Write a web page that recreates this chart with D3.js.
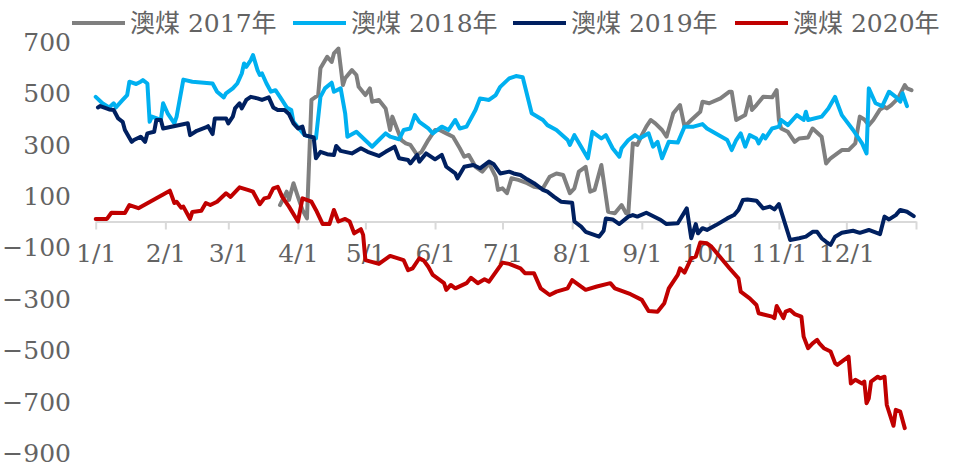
<!DOCTYPE html>
<html><head><meta charset="utf-8">
<script src="https://cdn.jsdelivr.net/npm/d3@7/dist/d3.min.js"></script>
<style>
html,body{margin:0;padding:0;background:#fff;}
svg{display:block;}
</style></head>
<body>
<svg id="chart" width="953" height="465"></svg>
<script>
// ---- data ----
const seriesNames = ["澳煤 2017年", "澳煤 2018年", "澳煤 2019年", "澳煤 2020年"];
const yTicks = [700, 500, 300, 100, -100, -300, -500, -700, -900];
const monthLabels = ["1/1","2/1","3/1","4/1","5/1","6/1","7/1","8/1","9/1","10/1","11/1","12/1"];

const aus2017 = [
["03-24",64],["03-27",116],["03-28",84],["03-30",149],["04-01",96],["04-03",45],["04-05",12],["04-07",473],
["04-10",492],["04-11",596],["04-14",641],["04-16",621],["04-17",654],["04-19",673],["04-21",531],["04-22",557],
["04-25",589],["04-27",570],["04-28",524],["05-01",492],["05-03",518],["05-04",466],["05-07",473],["05-10",440],
["05-12",356],["05-13",408],["05-17",317],["05-19",304],["05-21",298],["05-24",259],["05-26",271],["05-29",317],
["06-01",356],["06-03",356],["06-06",343],["06-09",330],["06-12",285],["06-14",252],["06-16",259],["06-19",213],
["06-22",194],["06-25",226],["06-28",174],["06-29",123],["07-01",129],["07-03",110],["07-05",168],["07-08",162],
["07-12",149],["07-15",135],["07-19",129],["07-22",174],["07-25",187],["07-28",181],["07-31",110],["08-02",129],
["08-04",194],["08-07",213],["08-09",116],["08-11",123],["08-14",220],["08-17",38],["08-20",32],["08-23",64],
["08-25",32],["08-26",32],["08-28",304],["08-30",298],["09-01",336],["09-03",369],["09-05",395],["09-07",382],
["09-10",356],["09-12",330],["09-15",421],["09-18",453],["09-20",369],["09-23",395],["09-27",427],["09-28",466],
["10-01",460],["10-06",479],["10-10",505],["10-11",505],["10-13",395],["10-17",414],["10-19",485],["10-20",434],
["10-22",453],["10-25",485],["10-29",483],["10-31",511],["11-01",395],["11-02",362],["11-05",349],["11-08",310],
["11-10",323],["11-14",327],["11-16",362],["11-20",330],["11-22",226],["11-24",246],["11-27",265],["11-29",278],
["12-02",278],["12-05",304],["12-07",408],["12-09",397],["12-11",375],["12-13",395],["12-16",436],["12-18",446],
["12-19",440],["12-21",453],["12-24",479],["12-27",531],["12-28",518],["12-30",511]
];

const aus2018 = [
["01-01",485],["01-04",460],["01-07",444],["01-09",460],["01-10",444],["01-13",473],["01-15",492],["01-16",544],
["01-19",535],["01-21",544],["01-22",550],["01-24",537],["01-25",388],["01-26",408],["01-30",395],["01-31",460],
["02-02",421],["02-05",382],["02-06",408],["02-09",552],["02-13",544],["02-22",537],["02-24",505],["02-27",483],
["02-28",499],["03-03",518],["03-05",537],["03-07",576],["03-08",615],["03-09",602],["03-11",628],["03-12",648],
["03-14",589],["03-15",570],["03-16",576],["03-18",537],["03-20",505],["03-22",511],["03-24",485],["03-27",444],
["03-29",434],["03-30",388],["04-02",356],["04-04",336],["04-09",323],["04-11",485],["04-13",518],["04-16",540],
["04-17",505],["04-20",518],["04-22",421],["04-23",330],["04-27",349],["05-04",291],["05-07",317],["05-10",343],
["05-12",330],["05-16",320],["05-18",356],["05-21",362],["05-23",414],["05-25",388],["05-29",362],["05-31",343],
["06-04",369],["06-07",356],["06-10",395],["06-12",362],["06-15",369],["06-19",434],["06-21",479],["06-25",473],
["06-28",492],["06-30",524],["07-04",557],["07-07",566],["07-10",561],["07-14",421],["07-19",395],["07-21",375],
["07-25",356],["07-30",317],["07-31",298],["08-02",336],["08-05",291],["08-08",246],["08-10",349],["08-14",323],
["08-16",336],["08-19",285],["08-22",252],["08-23",285],["08-26",317],["08-29",336],["08-31",323],["09-04",343],
["09-06",291],["09-08",310],["09-10",246],["09-13",310],["09-17",307],["09-20",369],["09-24",369],["09-28",379],
["09-30",362],["10-09",317],["10-11",278],["10-13",317],["10-15",343],["10-17",291],["10-19",336],["10-22",323],
["10-23",304],["10-25",336],["10-26",323],["10-29",362],["11-01",369],["11-02",395],["11-05",375],["11-09",414],
["11-12",395],["11-13",427],["11-14",395],["11-20",408],["11-23",440],["11-26",485],["11-27",460],["11-29",414],
["12-04",356],["12-08",304],["12-10",265],["12-11",518],["12-14",460],["12-17",449],["12-20",505],["12-23",485],
["12-25",466],["12-26",499],["12-28",449]
];

const aus2019 = [
["01-02",444],["01-03",449],["01-07",436],["01-09",434],["01-11",401],["01-13",388],["01-14",356],["01-17",310],
["01-18",317],["01-21",330],["01-23",310],["01-24",343],["01-27",349],["01-28",395],["01-30",395],["01-31",362],
["02-11",382],["02-12",336],["02-15",353],["02-19",366],["02-20",371],["02-22",340],["02-23",401],["02-28",401],
["03-01",382],["03-03",408],["03-04",440],["03-06",460],["03-07",440],["03-09",473],["03-11",485],["03-14",479],
["03-16",473],["03-19",483],["03-21",444],["03-23",434],["03-26",434],["03-28",418],["03-30",382],["04-01",362],
["04-03",369],["04-04",336],["04-08",327],["04-09",246],["04-11",271],["04-14",262],["04-17",259],["04-18",294],
["04-20",275],["04-22",271],["04-25",265],["04-29",285],["05-02",271],["05-07",255],["05-10",271],["05-14",291],
["05-16",246],["05-20",239],["05-21",226],["05-24",259],["05-25",233],["05-28",265],["06-01",242],["06-04",259],
["06-06",213],["06-10",187],["06-11",168],["06-14",213],["06-18",220],["06-21",207],["06-25",233],["06-27",224],
["06-30",187],["07-04",194],["07-06",187],["07-09",181],["07-12",164],["07-15",149],["07-19",123],["07-21",116],
["07-24",96],["07-27",77],["08-01",73],["08-02",0],["08-05",-20],["08-07",-40],["08-13",-59],["08-15",-36],
["08-16",12],["08-19",8],["08-22",-10],["08-26",19],["08-28",25],["08-30",19],["09-03",34],["09-09",8],
["09-12",-10],["09-17",-7],["09-21",51],["09-23",-65],["09-25",-10],["09-26",-46],["09-28",-26],["09-30",-33],
["10-04",-14],["10-09",12],["10-12",25],["10-14",45],["10-16",84],["10-18",86],["10-22",81],["10-25",51],
["10-28",58],["10-30",47],["11-01",68],["11-06",-72],["11-10",-65],["11-13",-59],["11-16",-40],["11-18",-40],
["11-20",-65],["11-22",-79],["11-24",-91],["11-26",-59],["11-29",-44],["12-04",-36],["12-07",-44],["12-11",-33],
["12-16",-49],["12-18",19],["12-20",8],["12-23",25],["12-25",45],["12-28",38],["12-31",21]
];

const aus2020 = [
["01-01",10],["01-06",10],["01-08",34],["01-14",33],["01-16",64],["01-20",52],["02-03",120],["02-05",72],
["02-06",77],["02-08",54],["02-09",58],["02-12",10],["02-13",37],["02-17",42],["02-19",72],["02-21",64],
["02-24",77],["02-28",110],["03-02",96],["03-06",133],["03-10",122],["03-12",116],["03-15",67],["03-17",90],
["03-19",94],["03-21",129],["03-23",135],["03-25",96],["03-28",58],["04-01",0],["04-03",90],["04-07",77],
["04-09",45],["04-12",-10],["04-15",-10],["04-17",45],["04-19",0],["04-22",10],["04-24",0],["04-26",-46],
["04-29",-30],["04-30",-52],["05-01",-150],["05-07",-165],["05-12",-134],["05-18",-150],["05-20",-189],["05-22",-182],
["05-25",-143],["05-27",-152],["05-29",-176],["05-31",-208],["06-05",-240],["06-06",-266],["06-08",-247],["06-10",-260],
["06-15",-240],["06-17",-219],["06-20",-240],["06-23",-225],["06-25",-234],["07-01",-160],["07-04",-165],["07-09",-182],
["07-11",-201],["07-15",-201],["07-18",-260],["07-22",-286],["07-25",-273],["07-30",-260],["08-01",-228],["08-07",-266],
["08-12",-253],["08-18",-240],["08-20",-260],["08-27",-283],["09-01",-305],["09-04",-348],["09-08",-351],["09-11",-318],
["09-13",-260],["09-17",-208],["09-18",-182],["09-20",-199],["09-23",-143],["09-25",-137],["09-27",-82],["09-30",-85],
["10-02",-98],["10-10",-182],["10-14",-221],["10-15",-273],["10-19",-299],["10-22",-325],["10-23",-357],["10-29",-370],
["10-30",-376],["10-31",-329],["11-03",-376],["11-04",-351],["11-06",-344],["11-08",-360],["11-11",-370],["11-12",-448],
["11-14",-493],["11-16",-474],["11-18",-461],["11-19",-474],["11-21",-493],["11-24",-506],["11-26",-551],["11-27",-558],
["12-02",-526],["12-03",-630],["12-05",-616],["12-08",-630],["12-09",-623],["12-10",-707],["12-11",-688],["12-12",-623],
["12-15",-604],["12-16",-610],["12-18",-604],["12-19",-714],["12-22",-795],["12-23",-733],["12-25",-740],["12-27",-804]
];

// ---- styles ----
const seriesColors = ["#7f7f7f", "#00b0f0", "#002060", "#c00000"];
const FONT = "'DejaVu Serif', 'Noto Sans CJK SC', serif";
const TXT = "#636363";

const svg = d3.select("#chart");
const parse = d3.timeParse("%Y-%m-%d");
const toDate = s => parse("2017-" + s);

const x = d3.scaleTime()
  .domain([new Date(2017, 0, 1), new Date(2018, 0, 1)])
  .range([95.7, 916]);
const y = d3.scaleLinear().domain([-900, 700]).range([452.8, 41.6]);

// y axis labels (no line)
const yAxis = d3.axisLeft(y).tickValues(yTicks).tickSize(0).tickPadding(0).tickFormat(d3.format("d"));
const gy = svg.append("g").attr("transform", "translate(71,0)").call(yAxis);
gy.select(".domain").remove();
gy.selectAll("text").attr("font-family", FONT).attr("font-size", 25).attr("fill", TXT)
  .attr("dy", "0.35em").attr("x", 0).style("text-anchor", "end");

// x axis at y=0
const tickDates = d3.timeMonth.range(new Date(2017, 0, 1), new Date(2018, 0, 2));
const xAxis = d3.axisBottom(x).tickValues(tickDates).tickSize(8).tickSizeOuter(0)
  .tickFormat((d, i) => monthLabels[i] || "");
const gx = svg.append("g").attr("transform", `translate(0,${y(0)})`).call(xAxis);
gx.select(".domain").attr("stroke", "#d9d9d9").attr("stroke-width", 2);
gx.selectAll(".tick line").attr("stroke", "#d9d9d9").attr("stroke-width", 2);
gx.selectAll("text").attr("font-family", FONT).attr("font-size", 25).attr("fill", TXT)
  .attr("y", 0).attr("dy", "1.62em");

// lines
const line = d3.line().x(d => x(toDate(d[0]))).y(d => y(d[1]));
const allSeries = [aus2017, aus2018, aus2019, aus2020];
allSeries.forEach((s, i) => {
  svg.append("path").datum(s).attr("d", line)
    .attr("fill", "none").attr("stroke", seriesColors[i]).attr("stroke-width", 4)
    .attr("stroke-linejoin", "round").attr("stroke-linecap", "round");
});

// legend
const legX = [72, 293, 513, 735];
const legend = svg.append("g");
seriesNames.forEach((n, i) => {
  legend.append("line").attr("x1", legX[i]).attr("x2", legX[i] + 53)
    .attr("y1", 23).attr("y2", 23).attr("stroke", seriesColors[i]).attr("stroke-width", 4);
  legend.append("text").attr("x", legX[i] + 58).attr("y", 23).attr("dy", "0.35em")
    .attr("font-family", FONT).attr("font-size", 25).attr("fill", TXT).text(n);
});
</script>
</body></html>
